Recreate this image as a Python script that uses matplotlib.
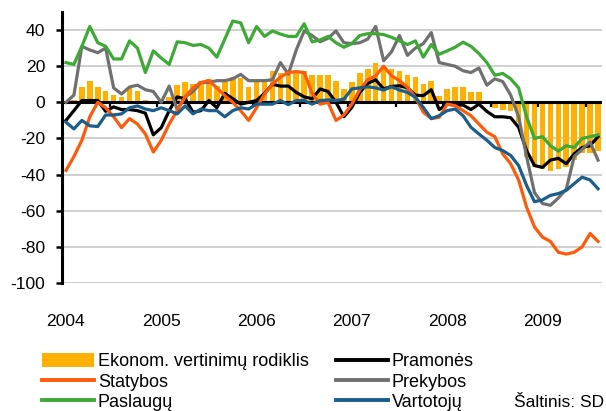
import numpy as np
import matplotlib
matplotlib.use("Agg")
import matplotlib.pyplot as plt
from matplotlib.patches import Patch
from matplotlib.lines import Line2D

plt.rcParams['font.family'] = ['Liberation Sans', 'DejaVu Sans']
plt.rcParams['axes.unicode_minus'] = False

# monthly data, Jan 2004 - Aug 2009
years = ['2004', '2005', '2006', '2007', '2008', '2009']

ekonom = [0, 1.3, 8.6, 12, 8.6, 6.4, 4.2, 2.8, 8.6, 6.4, 1.3, 0,
          2, 3, 9.5, 11, 10, 12, 13, 9, 12, 14, 13.4, 8.6,
          12, 13, 17.5, 16.5, 15.6, 17.5, 17.5, 15, 15.3, 15.3, 12, 7.4,
          11, 16.5, 18.4, 22, 20, 18.4, 17.5, 15.3, 14, 10, 12, 3.7,
          7.4, 8.6, 8.6, 5.5, 5.5, 1, -3, -4, -5, -11, -30, -36,
          -37, -38, -37, -36, -32, -28, -28, -27]

pramones = [-10, -4.6, 1, 1, 1, -5, -2.5, -4, -4, -4.6, -6, -18,
            -14, -4.6, 3, 2, -5.5, -4.6, 1, -3, 5, 2, -1, 0,
            1, 5, 10, 9, 9, 5.5, 3, 2, 7.4, 6, 0, -8,
            -2.8, 5.5, 10.5, 12.5, 7.4, 8.8, 9.2, 8, 4, 3.7, 7, -4,
            -1, -1.5, -1.5, -4, -1, -5, -8, -8, -8.5, -13.8, -26.7, -35,
            -36, -32, -31, -34, -28.5, -25, -24, -19]

statybos = [-37.7, -30, -21, -8, 0, -3, -8, -14, -9, -12, -17.5, -27.5,
            -21, -12, -4.6, 3, 8, 11, 12, 8, 3.7, 0, -4.6, -10,
            -3, 4.6, 10, 14, 16.5, 17, 16.5, 5, -1, 0, -10, -7,
            -1, 7, 12.5, 14.7, 20, 14.7, 12, 8.3, 2.8, -5.5, -9, -8.3,
            -1, -1.8, -4.6, -7.4, -12, -16.5, -19, -28.5, -34, -43, -58, -69,
            -74.6, -77, -83, -84, -83, -80, -72.6, -77]

prekybos = [0, 4, 31, 29, 27.5, 30, 8, 4.6, 8.5, 9.5, 7, 6,
            0, 9, -4, 3, 6, 11, 11, 12, 12, 13, 15.5, 12,
            12, 12, 12.5, 22, 15.6, 29, 39.5, 37, 33.5, 35.5, 39.5, 33,
            32.5, 33, 35, 42, 23, 28, 37, 26, 30, 32.5, 38.6, 22,
            21, 20, 17.5, 16.5, 19, 9.5, 13, 11.5, 4, -8, -30, -50,
            -56, -57, -53, -48, -30, -26, -22, -32]

paslaugu = [22, 21, 31, 42, 33, 31, 24, 24, 34, 30, 16.5, 28.5,
            24.5, 21, 33.5, 33, 31.5, 32, 30, 25, 35, 45, 44, 33,
            42, 36.5, 39.5, 37.8, 36.5, 36.5, 43.5, 33.5, 34.5, 36.5, 33, 30.5,
            32.5, 37, 38, 38, 37.5, 36, 34, 32, 34, 25, 32, 26.6,
            28.5, 30.5, 33.3, 31, 27, 22, 15, 16, 13, 8, -8, -20,
            -19, -24, -27, -24, -25, -20, -19, -18]

vartotoju = [-11, -14.7, -10, -13, -13.4, -7, -7, -6.4, -3, -2, -3.7, -4.6,
             -3, -4.6, -6.4, -2, -6.4, -3.7, -4.6, -4.6, -8, -4.6, -3, -3.7,
             -1, -1, -1, 1, -1.3, 1, 1, -1, 1, 1.3, 1, 1.8,
             7.4, 8, 8.6, 8, 6.8, 8.6, 6.8, 5.5, 2.8, -2.8, -9, -7.4,
             -4.6, -3.7, -7.4, -13.8, -17.5, -21, -25, -26.7, -29.4, -35, -46, -55,
             -54, -51.5, -50.5, -48.7, -45, -41.4, -43, -47.8]

months = np.arange(len(ekonom))

c_bar = '#FFB000'
c_stat = '#FF5A0A'
c_prek = '#707070'
c_pasl = '#3DAA35'
c_vart = '#1B5E8C'

fig = plt.figure(figsize=(6.06, 4.11), dpi=100)
ax = fig.add_axes([62 / 606, 1 - 283 / 411, 540 / 606, 271 / 411])

ax.bar(months, ekonom, width=0.7, color=c_bar, zorder=2)
ax.axhline(0, color='black', lw=2.2, zorder=2.5)
# small tick marks on the zero line every half year
ax.vlines(np.arange(-0.5, len(months), 6), -2.8, 0, color='black', lw=1.6, zorder=2.5)

lw = 2.3
ax.plot(months, pramones, color='black', lw=lw, zorder=3)
ax.plot(months, prekybos, color=c_prek, lw=lw, zorder=3)
ax.plot(months, statybos, color=c_stat, lw=lw, zorder=3)
ax.plot(months, paslaugu, color=c_pasl, lw=lw, zorder=3)
ax.plot(months, vartotoju, color=c_vart, lw=lw, zorder=3)

ax.set_xlim(-0.5, len(months) - 0.5)
ax.set_ylim(-100, 50)
ax.set_yticks(np.arange(-100, 41, 20))
ax.set_xticks(np.arange(0, len(months), 12))
ax.set_xticklabels(years)
ax.tick_params(axis='x', length=0, pad=22, labelsize=12.6)
ax.tick_params(axis='y', direction='out', length=4, width=1.8, pad=8, labelsize=12.6)

for y in [-100, -80, -60, -40, -20, 20, 40]:
    ax.axhline(y, color='#C8C8C8', lw=1.2, zorder=1)

for s in ['top', 'right', 'bottom']:
    ax.spines[s].set_visible(False)
ax.spines['left'].set_linewidth(2.2)

handles = [Patch(facecolor=c_bar, edgecolor='none'),
           Line2D([], [], color=c_stat, lw=2.8),
           Line2D([], [], color=c_pasl, lw=2.8),
           Line2D([], [], color='black', lw=2.8),
           Line2D([], [], color=c_prek, lw=2.8),
           Line2D([], [], color=c_vart, lw=2.8)]
labels = ['Ekonom. vertinimų rodiklis', 'Statybos', 'Paslaugų',
          'Pramonės', 'Prekybos', 'Vartotojų']
fig.legend(handles, labels, ncol=2, loc='upper left',
           bbox_to_anchor=(42 / 606, 1 - 353 / 411), frameon=False,
           fontsize=13, handlelength=2.9, handleheight=0.8, handletextpad=0.2,
           columnspacing=1.5, labelspacing=0.18, borderpad=0, borderaxespad=0)

fig.text(604 / 606, 1 / 411, 'Šaltinis: SD', fontsize=12.5, va='bottom', ha='right')

fig.savefig('out.png', dpi=100)
